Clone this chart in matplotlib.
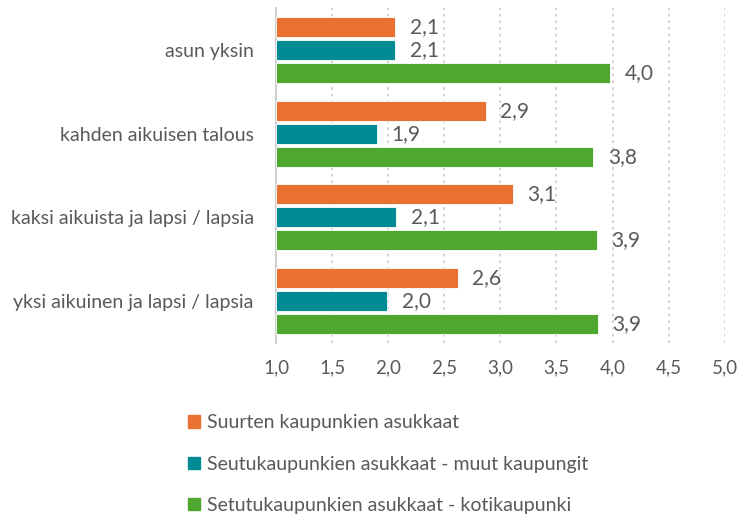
import matplotlib.pyplot as plt
from matplotlib.patches import Patch
import numpy as np

plt.rcParams['font.family'] = ['Lato', 'DejaVu Sans']

categories = ["asun yksin", "kahden aikuisen talous",
              "kaksi aikuista ja lapsi / lapsia", "yksi aikuinen ja lapsi / lapsia"]
series_names = ["Suurten kaupunkien asukkaat",
                "Seutukaupunkien asukkaat - muut kaupungit",
                "Setutukaupunkien asukkaat - kotikaupunki"]
suurten = [2.06, 2.87, 3.11, 2.62]
seutu_muut = [2.06, 1.90, 2.07, 1.99]
seutu_koti = [3.98, 3.83, 3.86, 3.87]
colors = ["#E97132", "#008A94", "#4EA72E"]
xticks = [1.0, 1.5, 2.0, 2.5, 3.0, 3.5, 4.0, 4.5, 5.0]

txt = "#595959"
fig = plt.figure(figsize=(7.41, 5.14), dpi=100)
ax = fig.add_axes([0.3725, 0.333, 0.6055, 0.651])

y = np.arange(len(categories))
h = 0.24
pitch = 0.275
for i, (vals, c) in enumerate(zip([suurten, seutu_muut, seutu_koti], colors)):
    pos = y + (i - 1) * pitch
    ax.barh(pos, np.array(vals) - 1.0, left=1.0, height=h, color=c,
            edgecolor="white", linewidth=0.6, zorder=3)
    for p, v in zip(pos, vals):
        ax.text(v + 0.13, p, f"{v:.1f}".replace(".", ","), va="center",
                ha="left", fontsize=15, color=txt)

ax.set_xlim(1.0, 5.0)
ax.set_ylim(3.5, -0.5)
ax.set_xticks(xticks)
ax.set_xticklabels([f"{t:.1f}".replace(".", ",") for t in xticks], fontsize=13.5, color=txt)
ax.set_yticks(y)
ax.set_yticklabels(categories, fontsize=14, color=txt)
ax.tick_params(length=0)
ax.tick_params(axis="x", pad=12)
ax.tick_params(axis="y", pad=16)
ax.grid(axis="x", linestyle=(0, (1.5, 2.5)), color="#C8C8C8", linewidth=1.2, zorder=0)
for s in ["top", "right", "bottom"]:
    ax.spines[s].set_visible(False)
ax.spines["left"].set_color("#D0D0D0")
ax.spines["left"].set_linewidth(1.5)

handles = [Patch(color=c) for c in colors]
fig.legend(handles, series_names, loc="upper left", bbox_to_anchor=(0.23, 0.228),
           frameon=False, fontsize=14, labelcolor=txt, handlelength=0.6,
           handleheight=0.6, handletextpad=0.4, labelspacing=1.25)

fig.savefig("out.png", dpi=100)
